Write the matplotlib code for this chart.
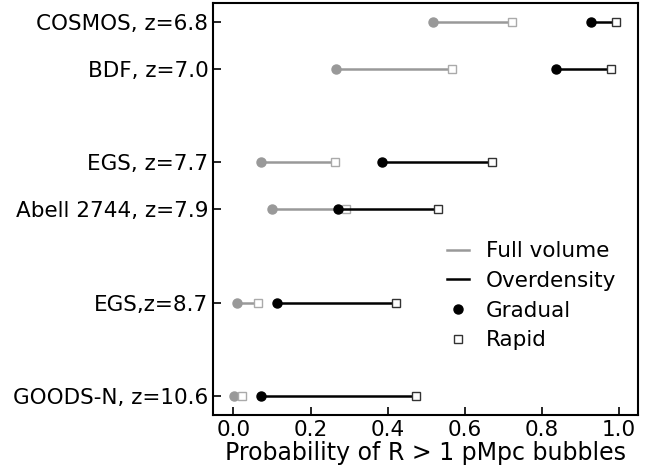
import matplotlib.pyplot as plt

# fields, top to bottom
fields = ["COSMOS, z=6.8", "BDF, z=7.0", "EGS, z=7.7", "Abell 2744, z=7.9",
          "EGS,z=8.7", "GOODS-N, z=10.6"]
ypos = [0, 1, 3, 4, 6, 8]

# probabilities
full_gradual = [0.517, 0.265, 0.071, 0.099, 0.010, 0.002]
full_rapid = [0.721, 0.566, 0.263, 0.292, 0.065, 0.023]
over_gradual = [0.927, 0.835, 0.386, 0.271, 0.113, 0.072]
over_rapid = [0.991, 0.978, 0.671, 0.530, 0.421, 0.473]

fig = plt.figure(figsize=(6.49, 4.71), dpi=100)
ax = fig.add_axes([0.3287, 0.1189, 0.6539, 0.8747])

gray = "#999999"
for i, y in enumerate(ypos):
    ax.plot([full_gradual[i], full_rapid[i]], [y, y], color=gray, lw=1.8, zorder=1)
    ax.plot(full_gradual[i], y, "o", color=gray, ms=6.5, zorder=2)
    ax.plot(full_rapid[i], y, "s", mfc="white", mec="#aaaaaa", ms=6, zorder=2)
for i, y in enumerate(ypos):
    ax.plot([over_gradual[i], over_rapid[i]], [y, y], color="k", lw=1.8, zorder=3)
    ax.plot(over_gradual[i], y, "o", color="k", ms=6.5, zorder=4)
    ax.plot(over_rapid[i], y, "s", mfc="white", mec="#333333", ms=6, zorder=4)

# legend proxies
ax.plot([], [], color=gray, lw=1.8, label="Full volume")
ax.plot([], [], color="k", lw=1.8, label="Overdensity")
ax.plot([], [], "o", color="k", ms=6.5, ls="none", label="Gradual")
ax.plot([], [], "s", mfc="white", mec="#333333", ms=6, ls="none", label="Rapid")
ax.legend(frameon=False, fontsize=15.5, handlelength=1.0, labelspacing=0.45,
          loc="lower right", bbox_to_anchor=(0.995, 0.11))

ax.set_yticks(ypos)
ax.set_yticklabels(fields)
ax.set_ylim(8.4, -0.4)
ax.set_xlim(-0.052, 1.048)
ax.set_xticks([0, 0.2, 0.4, 0.6, 0.8, 1.0])
ax.tick_params(direction="in", labelsize=15.5, length=6, width=1.2)
ax.set_xlabel("Probability of R > 1 pMpc bubbles", fontsize=17, labelpad=1)
for s in ax.spines.values():
    s.set_linewidth(1.5)

fig.savefig("out.png", dpi=100)
